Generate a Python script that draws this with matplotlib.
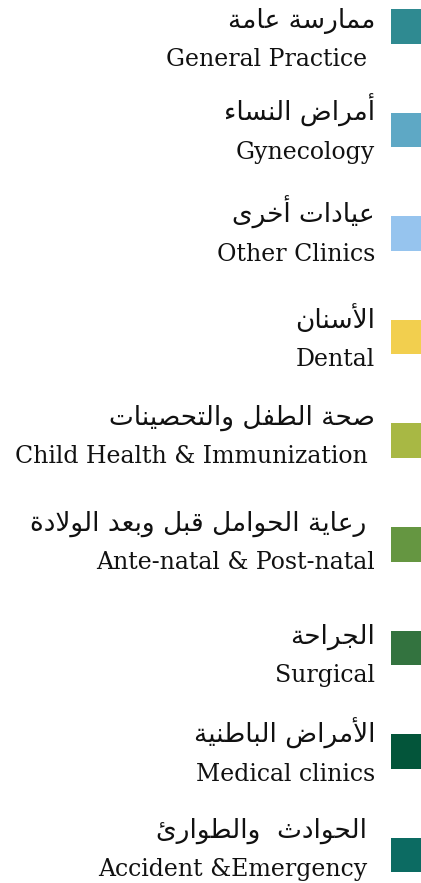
import matplotlib
matplotlib.use("Agg")
import matplotlib.pyplot as plt
from matplotlib.patches import Rectangle

# ---- data ----
labels_ar = [
    "ممارسة عامة",
    "أمراض النساء",
    "عيادات أخرى",
    "الأسنان",
    "صحة الطفل والتحصينات",
    " رعاية الحوامل قبل وبعد الولادة",
    "الجراحة",
    "الأمراض الباطنية",
    " الحوادث  والطوارئ",
]
labels_en = [
    "General Practice ",
    "Gynecology",
    "Other Clinics",
    "Dental",
    "Child Health & Immunization ",
    "Ante-natal & Post-natal",
    "Surgical",
    "Medical clinics",
    "Accident &Emergency ",
]
colors = ["#2F8A91", "#5EA8C5", "#96C4EE", "#F2CF4E", "#A8B844",
          "#659641", "#33733F", "#03553A", "#0C6B62"]

# ---- minimal Arabic shaping (contextual forms + lam-alef) ----
DUAL = {
    'ئ': 0xFE89, 'ب': 0xFE8F, 'ت': 0xFE95, 'ث': 0xFE99, 'ج': 0xFE9D,
    'ح': 0xFEA1, 'خ': 0xFEA5, 'س': 0xFEB1, 'ش': 0xFEB5, 'ص': 0xFEB9,
    'ض': 0xFEBD, 'ط': 0xFEC1, 'ظ': 0xFEC5, 'ع': 0xFEC9, 'غ': 0xFECD,
    'ف': 0xFED1, 'ق': 0xFED5, 'ك': 0xFED9, 'ل': 0xFEDD, 'م': 0xFEE1,
    'ن': 0xFEE5, 'ه': 0xFEE9, 'ي': 0xFEF1,
}
RIGHT = {
    'آ': 0xFE81, 'أ': 0xFE83, 'ؤ': 0xFE85, 'إ': 0xFE87, 'ا': 0xFE8D,
    'ة': 0xFE93, 'د': 0xFEA9, 'ذ': 0xFEAB, 'ر': 0xFEAD, 'ز': 0xFEAF,
    'و': 0xFEED, 'ى': 0xFEEF,
}
NONJOIN = {'ء': 0xFE80}
LAMALEF = {'آ': 0xFEF5, 'أ': 0xFEF7, 'إ': 0xFEF9, 'ا': 0xFEFB}


def shape_ar(text):
    toks = []
    i = 0
    while i < len(text):
        c = text[i]
        if c == 'ل' and i + 1 < len(text) and text[i + 1] in LAMALEF:
            toks.append(('LA', text[i + 1]))
            i += 2
        else:
            toks.append(('C', c))
            i += 1

    def joins_left(t):   # can connect to following letter
        return t[0] == 'C' and t[1] in DUAL

    def joins_right(t):  # can connect to preceding letter
        return t[0] == 'LA' or (t[0] == 'C' and (t[1] in DUAL or t[1] in RIGHT))

    out = []
    for k, t in enumerate(toks):
        prev_ok = k > 0 and joins_left(toks[k - 1]) and joins_right(t)
        next_ok = k + 1 < len(toks) and joins_left(t) and joins_right(toks[k + 1])
        if t[0] == 'LA':
            out.append(chr(LAMALEF[t[1]] + (1 if prev_ok else 0)))
            continue
        c = t[1]
        if c in DUAL:
            base = DUAL[c]
            if prev_ok and next_ok:
                out.append(chr(base + 3))
            elif prev_ok:
                out.append(chr(base + 1))
            elif next_ok:
                out.append(chr(base + 2))
            else:
                out.append(chr(base))
        elif c in RIGHT:
            out.append(chr(RIGHT[c] + (1 if prev_ok else 0)))
        elif c in NONJOIN:
            out.append(chr(NONJOIN[c]))
        else:
            out.append(c)
    return "".join(reversed(out))


# ---- layout ----
W, H = 421, 883
fig = plt.figure(figsize=(W / 100, H / 100), dpi=100)
ax = fig.add_axes([0, 0, 1, 1])
ax.set_xlim(0, W)
ax.set_ylim(H, 0)
ax.axis("off")

box_top0, box_step, box_h = 9, 103.6, 34.5
box_x, box_w = 391, 40
text_right = 375
# baselines (pixels from top) of the English lines, as laid out in the reference
en_baselines = [66, 159, 261, 366, 463, 569, 682, 781, 876]
ar_gap = 38

for i, (ar, en, col) in enumerate(zip(labels_ar, labels_en, colors)):
    top = box_top0 + i * box_step
    ax.add_patch(Rectangle((box_x, top), box_w, box_h, facecolor=col,
                           edgecolor="none"))
    yb = en_baselines[i]
    ax.text(text_right, yb - ar_gap, shape_ar(ar), ha="right", va="baseline",
            fontsize=19, family=["DejaVu Sans"], color="#111111")
    ax.text(text_right, yb, en, ha="right", va="baseline",
            fontsize=17, family=["DejaVu Serif"], color="#111111")

fig.savefig("out.png", dpi=100)
